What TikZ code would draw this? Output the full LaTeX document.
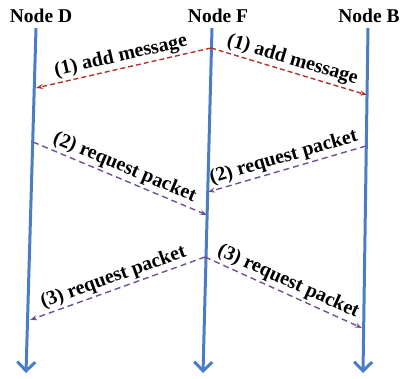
\documentclass[tikz,border=0pt]{standalone}
\usepackage{fontspec}
\setmainfont{Liberation Serif}
\usetikzlibrary{arrows.meta}
\definecolor{lineblue}{RGB}{74,126,196}
\definecolor{msgred}{RGB}{178,50,45}
\definecolor{msgpurple}{RGB}{112,80,150}
\tikzset{
  life/.style={draw=lineblue, line width=3pt, -{Straight Barb[length=9pt,width=18pt,line width=3pt]}},
  hdr/.style={font=\bfseries\fontsize{19.5}{22}\selectfont, inner sep=0pt},
  lbl/.style={font=\bfseries\fontsize{20}{24}\selectfont, inner sep=2pt, sloped, above, midway},
  addmsg/.style={draw=msgred, line width=1.4pt, dash pattern=on 5pt off 3pt, -{Stealth[length=7pt,width=5pt]}},
  reqmsg/.style={draw=msgpurple, line width=1.4pt, dash pattern=on 6pt off 4pt, -{Stealth[length=7pt,width=5pt]}}
}
\begin{document}
\begin{tikzpicture}[x=1pt,y=-1pt]
\useasboundingbox (0,0) rectangle (404,379);
% headers
\node[hdr] (hD) at (41,16) {Node D};
\node[hdr] (hF) at (218,16) {Node F};
\node[hdr] (hB) at (369,16) {Node B};
% lifelines
\coordinate (Dt) at (36,28);  \coordinate (Db) at (26,373);
\coordinate (Ft) at (212,28); \coordinate (Fb) at (203,373);
\coordinate (Bt) at (368,28); \coordinate (Bb) at (363,373);
\draw[life] (Dt) -- (Db);
\draw[life] (Ft) -- (Fb);
\draw[life] (Bt) -- (Bb);
% message points
\coordinate (f1) at (211,48);
\coordinate (d1) at (36,88);
\coordinate (b1) at (367,95);
\coordinate (d2) at (33,142);
\coordinate (f2a) at (207,215);
\coordinate (b2) at (366,146);
\coordinate (f2b) at (208,192);
\coordinate (f3) at (205,257);
\coordinate (d3) at (30,320);
\coordinate (b3) at (362,328);
% (1)
\draw[addmsg] (f1) -- node[lbl] (l1a) {(1) add message} (d1);
\draw[addmsg] (f1) -- node[lbl] (l1b) {(1) add message} (b1);
% (2)
\draw[reqmsg] (d2) -- node[lbl] (l2a) {(2) request packet} (f2a);
\draw[reqmsg] (b2) -- node[lbl] (l2b) {(2) request packet} (f2b);
% (3)
\draw[reqmsg] (f3) -- node[lbl] (l3a) {(3) request packet} (d3);
\draw[reqmsg] (f3) -- node[lbl] (l3b) {(3) request packet} (b3);
\end{tikzpicture}
\end{document}
